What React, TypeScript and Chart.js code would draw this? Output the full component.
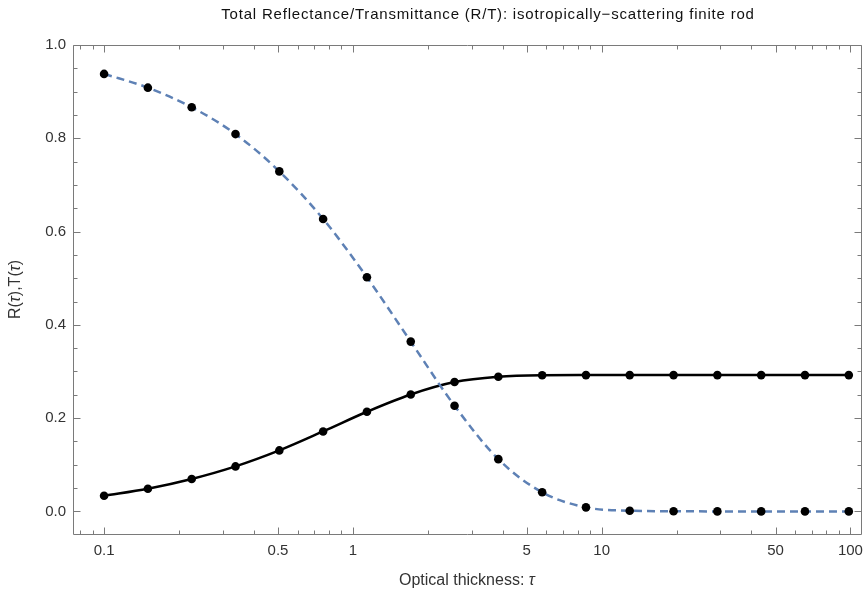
import React, { useEffect, useRef } from "react";
import { Chart, registerables } from "chart.js";

Chart.register(...registerables);

// Optical thickness values (x)
const tau = [0.1, 0.15, 0.225, 0.3375, 0.5063, 0.7594, 1.139, 1.709, 2.563, 3.844, 5.767, 8.65, 12.97, 19.46, 29.19, 43.79, 65.68, 98.53];
// Decreasing curve (blue dashed)
const transmittance = [0.938, 0.9085, 0.8665, 0.809, 0.729, 0.627, 0.502, 0.364, 0.2265, 0.112, 0.041, 0.0086, 0.0015, 0.0002, 0.0, 0.0, 0.0, 0.0];
// Increasing curve (black solid)
const reflectance = [0.0336, 0.0486, 0.0694, 0.0964, 0.1307, 0.1714, 0.2136, 0.2507, 0.2773, 0.2886, 0.2918, 0.2922, 0.2922, 0.2922, 0.2922, 0.2922, 0.2922, 0.2922];

const xTickValues = [0.1, 0.5, 1, 5, 10, 50, 100];
const xTickLabels = ["0.1", "0.5", "1", "5", "10", "50", "100"];
const xMinorTicks = [0.08, 0.09, 0.2, 0.3, 0.4, 0.6, 0.7, 0.8, 0.9, 2, 3, 4, 6, 7, 8, 9, 20, 30, 40, 60, 70, 80, 90];
const yTickValues = [0, 0.2, 0.4, 0.6, 0.8, 1.0];
const yTickLabels = ["0.0", "0.2", "0.4", "0.6", "0.8", "1.0"];
const yMinorTicks = [0.05, 0.1, 0.15, 0.25, 0.3, 0.35, 0.45, 0.5, 0.55, 0.65, 0.7, 0.75, 0.85, 0.9, 0.95];

const titleText = "Total Reflectance/Transmittance (R/T): isotropically\u2212scattering finite rod";
const xTitleParts = [{ t: "Optical thickness: " }, { t: "\u03c4", italic: true }];
const yTitleParts = [{ t: "R(" }, { t: "\u03c4", italic: true }, { t: "),T(" }, { t: "\u03c4", italic: true }, { t: ")" }];

const FONT = "'Liberation Sans', Arial, sans-serif";
const FRAME = "#7a7a7a";
const TEXT = "#333333";

function drawParts(ctx: CanvasRenderingContext2D, parts: { t: string; italic?: boolean }[], cx: number, cy: number, size: number) {
  let total = 0;
  const widths = parts.map((p) => {
    ctx.font = `${p.italic ? "italic " : ""}${size}px ${FONT}`;
    const w = ctx.measureText(p.t).width;
    total += w;
    return w;
  });
  let x = cx - total / 2;
  ctx.textBaseline = "middle";
  ctx.textAlign = "left";
  parts.forEach((p, i) => {
    ctx.font = `${p.italic ? "italic " : ""}${size}px ${FONT}`;
    ctx.fillText(p.t, x, cy);
    x += widths[i];
  });
}

const framePlugin = {
  id: "frameTicks",
  afterDraw(chart: any) {
    const { ctx, chartArea, scales } = chart;
    const { left, right, top, bottom } = chartArea;
    const xs = scales.x;
    const ys = scales.y;
    ctx.save();
    ctx.strokeStyle = FRAME;
    ctx.lineWidth = 1;
    ctx.beginPath();
    ctx.rect(Math.round(left) + 0.5, Math.round(top) + 0.5, Math.round(right - left), Math.round(bottom - top));
    ctx.stroke();
    const tick = (x1: number, y1: number, x2: number, y2: number) => {
      ctx.moveTo(x1, y1);
      ctx.lineTo(x2, y2);
    };
    ctx.beginPath();
    const b = Math.round(bottom) + 0.5;
    const t = Math.round(top) + 0.5;
    const l = Math.round(left) + 0.5;
    const r = Math.round(right) + 0.5;
    xTickValues.forEach((v) => {
      const px = Math.round(xs.getPixelForValue(v)) + 0.5;
      tick(px, b, px, b - 7);
      tick(px, t, px, t + 7);
    });
    xMinorTicks.forEach((v) => {
      const px = Math.round(xs.getPixelForValue(v)) + 0.5;
      tick(px, b, px, b - 4);
      tick(px, t, px, t + 4);
    });
    yTickValues.forEach((v) => {
      const py = Math.round(ys.getPixelForValue(v)) + 0.5;
      tick(l, py, l + 7, py);
      tick(r, py, r - 7, py);
    });
    yMinorTicks.forEach((v) => {
      const py = Math.round(ys.getPixelForValue(v)) + 0.5;
      tick(l, py, l + 4, py);
      tick(r, py, r - 4, py);
    });
    ctx.stroke();

    ctx.fillStyle = "#111111";
    ctx.font = `15px ${FONT}`;
    (ctx as any).letterSpacing = "0.8px";
    ctx.textAlign = "center";
    ctx.textBaseline = "middle";
    ctx.fillText(titleText, 488, 15);
    (ctx as any).letterSpacing = "0px";

    ctx.fillStyle = TEXT;
    drawParts(ctx, xTitleParts, (left + right) / 2, 581, 16);
    ctx.translate(16, (top + bottom) / 2);
    ctx.rotate(-Math.PI / 2);
    drawParts(ctx, yTitleParts, 0, 0, 16);
    ctx.restore();
  },
};

export default function App() {
  const ref = useRef<HTMLCanvasElement | null>(null);
  useEffect(() => {
    document.body.style.margin = "0";
    const canvas = ref.current;
    if (!canvas) return;
    const chart = new Chart(canvas, {
      type: "line",
      data: {
        datasets: [
          {
            label: "T",
            data: tau.map((x, i) => ({ x, y: transmittance[i] })),
            borderColor: "#5E81B5",
            borderWidth: 2.5,
            borderDash: [8, 5],
            pointRadius: 4.3,
            pointBackgroundColor: "#000",
            pointBorderColor: "#000",
            pointBorderWidth: 0,
            cubicInterpolationMode: "monotone",
            fill: false,
          },
          {
            label: "R",
            data: tau.map((x, i) => ({ x, y: reflectance[i] })),
            borderColor: "#000",
            borderWidth: 2.5,
            pointRadius: 4.3,
            pointBackgroundColor: "#000",
            pointBorderColor: "#000",
            pointBorderWidth: 0,
            cubicInterpolationMode: "monotone",
            fill: false,
          },
        ],
      },
      options: {
        animation: false,
        responsive: false,
        maintainAspectRatio: false,
        layout: { padding: { left: 0, right: 2, top: 45, bottom: 0 } },
        plugins: { legend: { display: false }, tooltip: { enabled: false }, title: { display: false } },
        scales: {
          x: {
            type: "logarithmic",
            min: 0.075,
            max: 110,
            grid: { display: false, drawTicks: false },
            border: { display: false },
            ticks: {
              autoSkip: false,
              maxRotation: 0,
              padding: 8,
              color: TEXT,
              font: { family: FONT, size: 15 },
              callback: (_v: any, i: number) => xTickLabels[i],
            },
            afterBuildTicks: (s: any) => {
              s.ticks = xTickValues.map((v) => ({ value: v }));
            },
            afterFit: (s: any) => {
              s.height = 63;
              s.paddingLeft = 0;
              s.paddingRight = 0;
            },
          },
          y: {
            type: "linear",
            min: -0.0485,
            max: 1.0,
            grid: { display: false, drawTicks: false },
            border: { display: false },
            ticks: {
              autoSkip: false,
              padding: 7,
              color: TEXT,
              font: { family: FONT, size: 15 },
              callback: (_v: any, i: number) => yTickLabels[i],
            },
            afterBuildTicks: (s: any) => {
              s.ticks = yTickValues.map((v) => ({ value: v }));
            },
            afterFit: (s: any) => {
              s.width = 73;
              s.paddingTop = 0;
              s.paddingBottom = 0;
            },
          },
        },
      },
      plugins: [framePlugin],
    } as any);
    return () => chart.destroy();
  }, []);
  return <canvas ref={ref} width={865} height={597} style={{ display: "block" }} />;
}
